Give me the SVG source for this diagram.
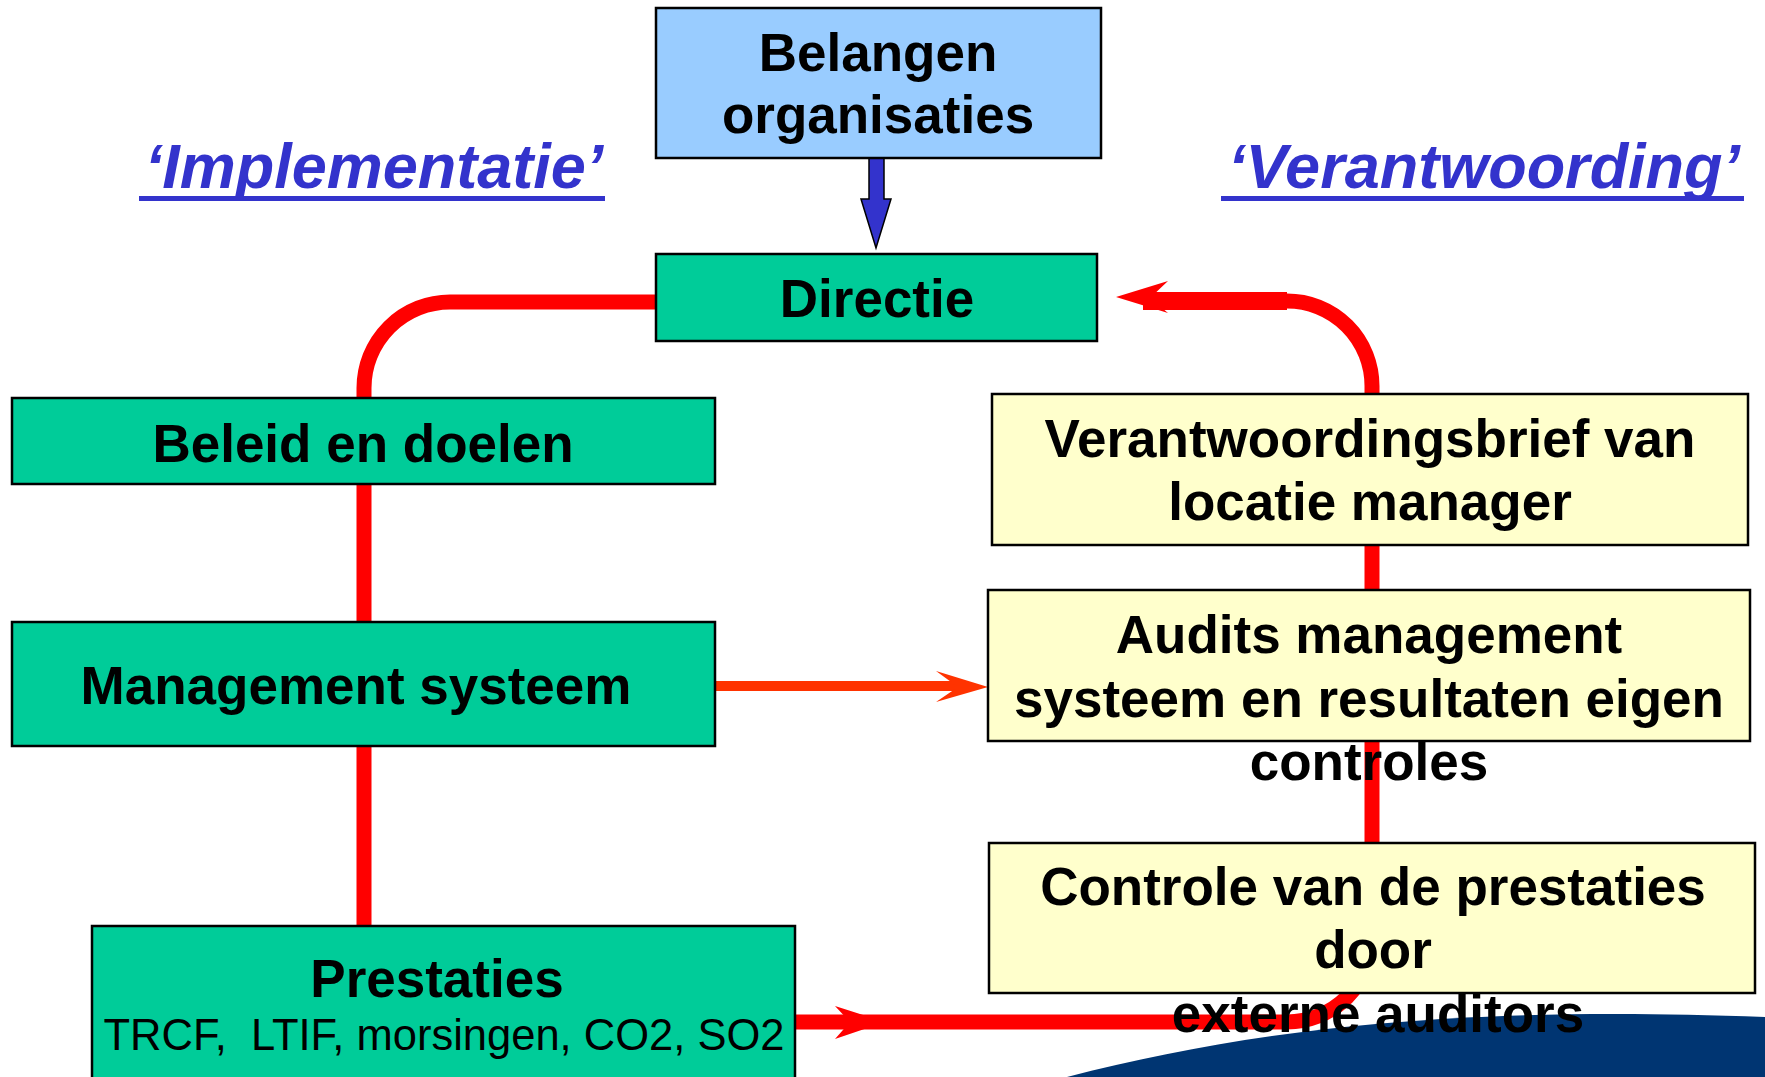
<svg xmlns="http://www.w3.org/2000/svg" width="1765" height="1077" viewBox="0 0 1765 1077">
<style>
.box{stroke:#000;stroke-width:2.5}
.g{fill:#00CC99}
.b{fill:#99CCFF}
.y{fill:#FFFFCC}
.t{font-family:"Liberation Sans",Arial,sans-serif;font-weight:bold;font-size:53px;fill:#000;text-anchor:middle}
.r{font-family:"Liberation Sans",Arial,sans-serif;font-size:43.5px;fill:#000;text-anchor:middle}
.h{font-family:"Liberation Sans",Arial,sans-serif;font-weight:bold;font-style:italic;font-size:63px;fill:#3333CC;text-anchor:middle}
.red{fill:none;stroke:#FF0000;stroke-width:15}
</style>
<rect width="1765" height="1077" fill="#fff"/>
<path d="M1067,1077 C1250,1030 1450,1005 1765,1017 V1077 Z" fill="#003572"/>
<g id="headings">
<text class="h" x="374" y="188">‘Implementatie’</text>
<rect x="139" y="196" width="466" height="5" fill="#3333CC"/>
<text class="h" x="1484" y="188">‘Verantwoording’</text>
<rect x="1221" y="196" width="523" height="5" fill="#3333CC"/>
</g>
<g id="connectors">
<path class="red" d="M656,302 H450 A86,86 0 0 0 364,388 V926"/>
<path class="red" d="M795,1022 H1287 A85,85 0 0 0 1372,937 V386 A85,85 0 0 0 1287,301 H1143"/>
<rect x="1143" y="292" width="144" height="18" fill="#FF0000"/>
<polygon points="1116,297 1168,281 1150,298 1168,313" fill="#FF0000"/>
<polygon points="835,1006 885,1022 835,1039 850,1022" fill="#FF0000"/>
<line x1="715" y1="686" x2="962" y2="686" stroke="#FF3300" stroke-width="10"/>
<polygon points="988,687 936,671 958,687 936,702" fill="#FF3300"/>
<polygon points="869,154 884,154 884,199 891,199 876,248 861,199 869,199" fill="#3333CC" stroke="#000" stroke-width="1.5"/>
</g>
<g id="belangen">
<rect class="box b" x="656" y="8" width="445" height="150"/>
<text class="t" x="878" y="71">Belangen</text>
<text class="t" x="878" y="133">organisaties</text>
</g>
<g id="directie">
<rect class="box g" x="656" y="254" width="441" height="87"/>
<text class="t" x="877" y="317">Directie</text>
</g>
<g id="beleid">
<rect class="box g" x="12" y="398" width="703" height="86"/>
<text class="t" x="363" y="462">Beleid en doelen</text>
</g>
<g id="management">
<rect class="box g" x="12" y="622" width="703" height="124"/>
<text class="t" x="356" y="704">Management systeem</text>
</g>
<g id="prestaties">
<rect class="box g" x="92" y="926" width="703" height="160"/>
<text class="t" x="437" y="997">Prestaties</text>
<text class="r" x="444" y="1050" xml:space="preserve">TRCF,  LTIF, morsingen, CO2, SO2</text>
</g>
<g id="verantwoordingsbrief">
<rect class="box y" x="992" y="394" width="756" height="151"/>
<text class="t" x="1370" y="457">Verantwoordingsbrief van</text>
<text class="t" x="1370" y="520">locatie manager</text>
</g>
<g id="audits">
<rect class="box y" x="988" y="590" width="762" height="151"/>
<text class="t" x="1369" y="653">Audits management</text>
<text class="t" x="1369" y="717">systeem en resultaten eigen</text>
<text class="t" x="1369" y="780">controles</text>
</g>
<g id="controle">
<rect class="box y" x="989" y="843" width="766" height="150"/>
<text class="t" x="1373" y="905">Controle van de prestaties</text>
<text class="t" x="1373" y="968">door</text>
<text class="t" x="1378" y="1032">externe auditors</text>
</g>
</svg>
